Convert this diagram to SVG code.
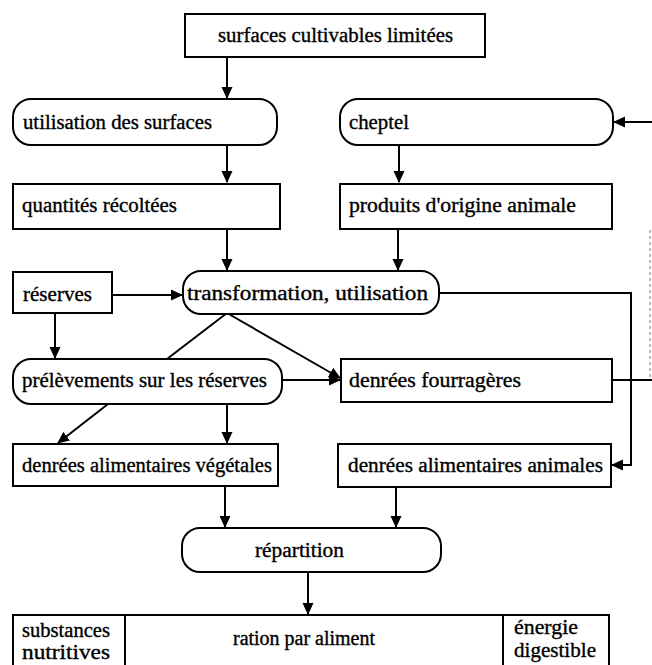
<svg xmlns="http://www.w3.org/2000/svg" width="652" height="665" viewBox="0 0 652 665">
<style>
.box{fill:#fff;stroke:#000;stroke-width:2}
.t{font-family:"Liberation Serif","Times New Roman",serif;font-size:20px;fill:#000;stroke:#000;stroke-width:0.35}
.c{fill:none;stroke:#000;stroke-width:2}
.dash{fill:none;stroke:#777;stroke-width:1;stroke-dasharray:3 3}
</style>
<defs>
<marker id="ah" markerUnits="userSpaceOnUse" markerWidth="12" markerHeight="12" viewBox="0 0 12 12" refX="11" refY="6" orient="auto">
<path d="M0,0.5 L12,6 L0,11.5 Z" fill="#000"/>
</marker>
</defs>
<rect width="652" height="665" fill="#fff"/>
<g id="connectors">
<path class="c" d="M227,57 V98" marker-end="url(#ah)"/>
<path class="c" d="M227,145 V182" marker-end="url(#ah)"/>
<path class="c" d="M399,145 V182" marker-end="url(#ah)"/>
<path class="c" d="M652,122 H614" marker-end="url(#ah)"/>
<path class="c" d="M227,229 V270" marker-end="url(#ah)"/>
<path class="c" d="M398,229 V270" marker-end="url(#ah)"/>
<path class="c" d="M112,295 H182" marker-end="url(#ah)"/>
<path class="c" d="M55,313 V358" marker-end="url(#ah)"/>
<path class="c" d="M227,313 L167,359"/>
<path class="c" d="M227,313 L340,378" marker-end="url(#ah)"/>
<path class="c" d="M282,380 H340" marker-end="url(#ah)"/>
<path class="c" d="M108,404 L58,443" marker-end="url(#ah)"/>
<path class="c" d="M227,404 V443" marker-end="url(#ah)"/>
<path class="c" d="M439,293 H631 V465 H612" marker-end="url(#ah)"/>
<path class="c" d="M612,380 H652"/>
<path class="dash" d="M650,230 V380"/>
<path class="c" d="M225,486 V527" marker-end="url(#ah)"/>
<path class="c" d="M396,487 V527" marker-end="url(#ah)"/>
<path class="c" d="M308,572 V614" marker-end="url(#ah)"/>
</g>
<g id="surfaces"><rect class="box" x="185" y="14" width="300" height="43"/><text class="t" x="218" y="42" textLength="235" lengthAdjust="spacingAndGlyphs">surfaces cultivables limitées</text></g>
<g id="utilisation"><rect class="box" x="13" y="99" width="264" height="46" rx="18" ry="18"/><text class="t" x="23" y="129" textLength="189" lengthAdjust="spacingAndGlyphs">utilisation des surfaces</text></g>
<g id="cheptel"><rect class="box" x="340" y="99" width="273" height="46" rx="18" ry="18"/><text class="t" x="349" y="129" textLength="60" lengthAdjust="spacingAndGlyphs">cheptel</text></g>
<g id="quantites"><rect class="box" x="13" y="184" width="267" height="45"/><text class="t" x="22" y="212" textLength="155" lengthAdjust="spacingAndGlyphs">quantités récoltées</text></g>
<g id="produits"><rect class="box" x="340" y="184" width="272" height="45"/><text class="t" x="349" y="212" textLength="227" lengthAdjust="spacingAndGlyphs">produits d'origine animale</text></g>
<g id="reserves"><rect class="box" x="13" y="272" width="99" height="41"/><text class="t" x="23" y="301" textLength="69" lengthAdjust="spacingAndGlyphs">réserves</text></g>
<g id="transformation"><rect class="box" x="183" y="271" width="256" height="43" rx="18" ry="18"/><text class="t" x="187" y="300" textLength="241" lengthAdjust="spacingAndGlyphs">transformation, utilisation</text></g>
<g id="prelevements"><rect class="box" x="13" y="359" width="269" height="45" rx="18" ry="18"/><text class="t" x="22" y="387" textLength="245" lengthAdjust="spacingAndGlyphs">prélèvements sur les réserves</text></g>
<g id="fourrageres"><rect class="box" x="341" y="359" width="271" height="43"/><text class="t" x="349" y="387" textLength="172" lengthAdjust="spacingAndGlyphs">denrées fourragères</text></g>
<g id="vegetales"><rect class="box" x="13" y="444" width="265" height="42"/><text class="t" x="22" y="472" textLength="250" lengthAdjust="spacingAndGlyphs">denrées alimentaires végétales</text></g>
<g id="animales"><rect class="box" x="338" y="444" width="273" height="43"/><text class="t" x="348" y="472" textLength="255" lengthAdjust="spacingAndGlyphs">denrées alimentaires animales</text></g>
<g id="repartition"><rect class="box" x="182" y="528" width="259" height="44" rx="18" ry="18"/><text class="t" x="255" y="557" textLength="89" lengthAdjust="spacingAndGlyphs">répartition</text></g>
<g id="ration">
<rect class="box" x="13" y="615" width="596" height="58"/>
<line class="c" x1="125" y1="615" x2="125" y2="670"/>
<line class="c" x1="503" y1="615" x2="503" y2="670"/>
<text class="t" x="22" y="637" textLength="88" lengthAdjust="spacingAndGlyphs">substances</text>
<text class="t" x="22" y="659" textLength="88" lengthAdjust="spacingAndGlyphs">nutritives</text>
<text class="t" x="233" y="645" textLength="142" lengthAdjust="spacingAndGlyphs">ration par aliment</text>
<text class="t" x="514" y="634" textLength="64" lengthAdjust="spacingAndGlyphs">énergie</text>
<text class="t" x="514" y="657" textLength="82" lengthAdjust="spacingAndGlyphs">digestible</text>
</g>
</svg>
